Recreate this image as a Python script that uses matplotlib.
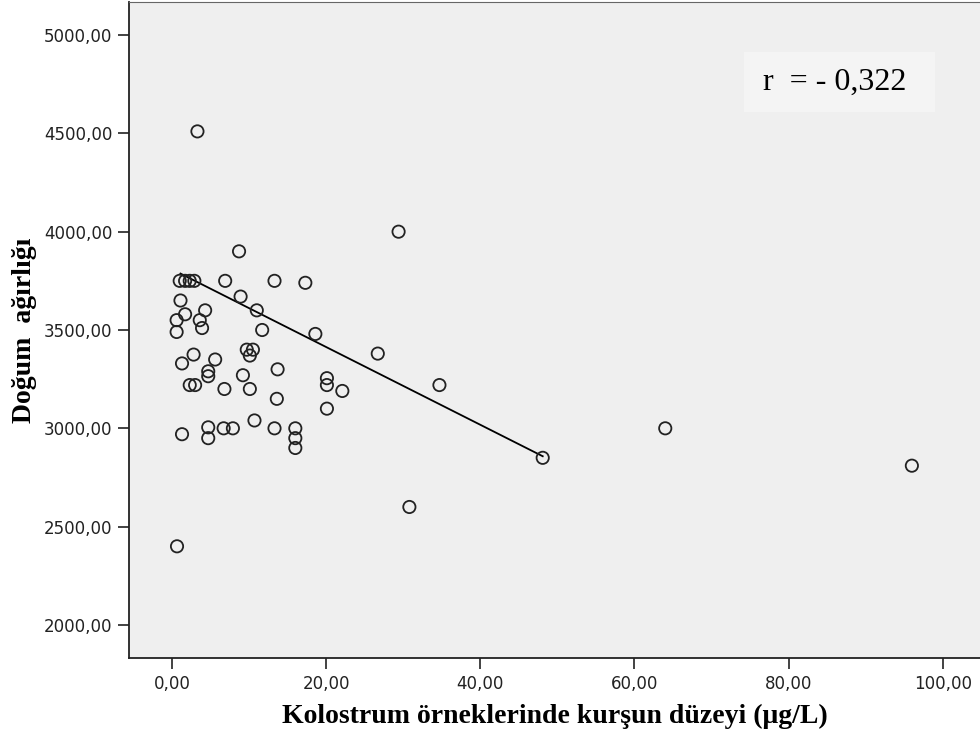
import matplotlib.pyplot as plt
from matplotlib.patches import Rectangle

# Colostrum lead level (ug/L) vs birth weight (g)
lead = [3.3, 29.4, 8.7, 1.0, 1.7, 2.3, 2.9, 6.9, 13.3, 17.3,
        1.1, 8.9, 11.0, 4.3, 1.7, 0.6, 3.6, 3.9, 0.6, 11.7,
        18.6, 9.7, 10.5, 10.1, 2.8, 1.3, 5.6, 4.7, 4.7, 9.2,
        13.7, 2.3, 3.0, 6.8, 10.1, 13.6, 10.7, 1.3, 4.7, 4.7,
        6.7, 7.9, 13.3, 16.0, 16.0, 16.0, 26.7, 20.1, 20.1, 22.1,
        20.1, 34.7, 48.1, 30.8, 64.0, 96.0, 0.65]
weight = [4510, 4000, 3900, 3750, 3750, 3750, 3750, 3750, 3750, 3740,
          3650, 3670, 3600, 3600, 3580, 3550, 3550, 3510, 3490, 3500,
          3480, 3400, 3400, 3370, 3375, 3330, 3350, 3290, 3265, 3270,
          3300, 3220, 3220, 3200, 3200, 3150, 3040, 2970, 3005, 2950,
          3000, 3000, 3000, 3000, 2950, 2900, 3380, 3255, 3220, 3190,
          3100, 3220, 2850, 2600, 3000, 2810, 2400]

# drawn trend line endpoints
line_x = [1.1, 48.1]
line_y = [3787, 2858]

x_ticks = [0, 20, 40, 60, 80, 100]
x_labels = ["0,00", "20,00", "40,00", "60,00", "80,00", "100,00"]
y_ticks = [2000, 2500, 3000, 3500, 4000, 4500, 5000]
y_labels = ["2000,00", "2500,00", "3000,00", "3500,00", "4000,00", "4500,00", "5000,00"]

fig = plt.figure(figsize=(9.8, 7.49), dpi=100)
ax = fig.add_axes([129 / 980, 1 - 658 / 749, 1 - 129 / 980, 656 / 749])
ax.set_facecolor("#efefef")

ax.scatter(lead, weight, s=78, facecolors="none", edgecolors="#222222",
           linewidths=1.3, zorder=3)
ax.plot(line_x, line_y, color="black", linewidth=1.3, zorder=2)

ax.set_xlim(-5.58, 104.84)
ax.set_ylim(1832, 5168)
ax.set_xticks(x_ticks)
ax.set_xticklabels(x_labels)
ax.set_yticks(y_ticks)
ax.set_yticklabels(y_labels)
ax.tick_params(direction="out", length=8, width=1.2, colors="#222222",
               labelsize=12, pad=4)

ax.spines["right"].set_visible(False)
ax.spines["top"].set_color("#666666")
ax.spines["left"].set_linewidth(1.3)
ax.spines["bottom"].set_linewidth(1.3)
ax.spines["left"].set_color("#222222")
ax.spines["bottom"].set_color("#222222")

ax.set_xlabel("Kolostrum örneklerinde kurşun düzeyi (μg/L)",
              fontfamily="Liberation Serif", fontweight="bold", fontsize=20,
              labelpad=8)
ax.set_ylabel("Doğum  ağırlığı", fontfamily="Liberation Serif",
              fontweight="bold", fontsize=20, labelpad=5)

# correlation box
ax.add_patch(Rectangle((0.7227, 0.8323), 0.2244, 0.0915, transform=ax.transAxes,
                       facecolor="#f4f4f4", edgecolor="none", zorder=1))
ax.text(0.8296, 0.878, "r  = - 0,322", transform=ax.transAxes,
        fontfamily="Liberation Serif", fontsize=23, ha="center", va="center",
        zorder=4)

fig.savefig("out.png", dpi=100)
